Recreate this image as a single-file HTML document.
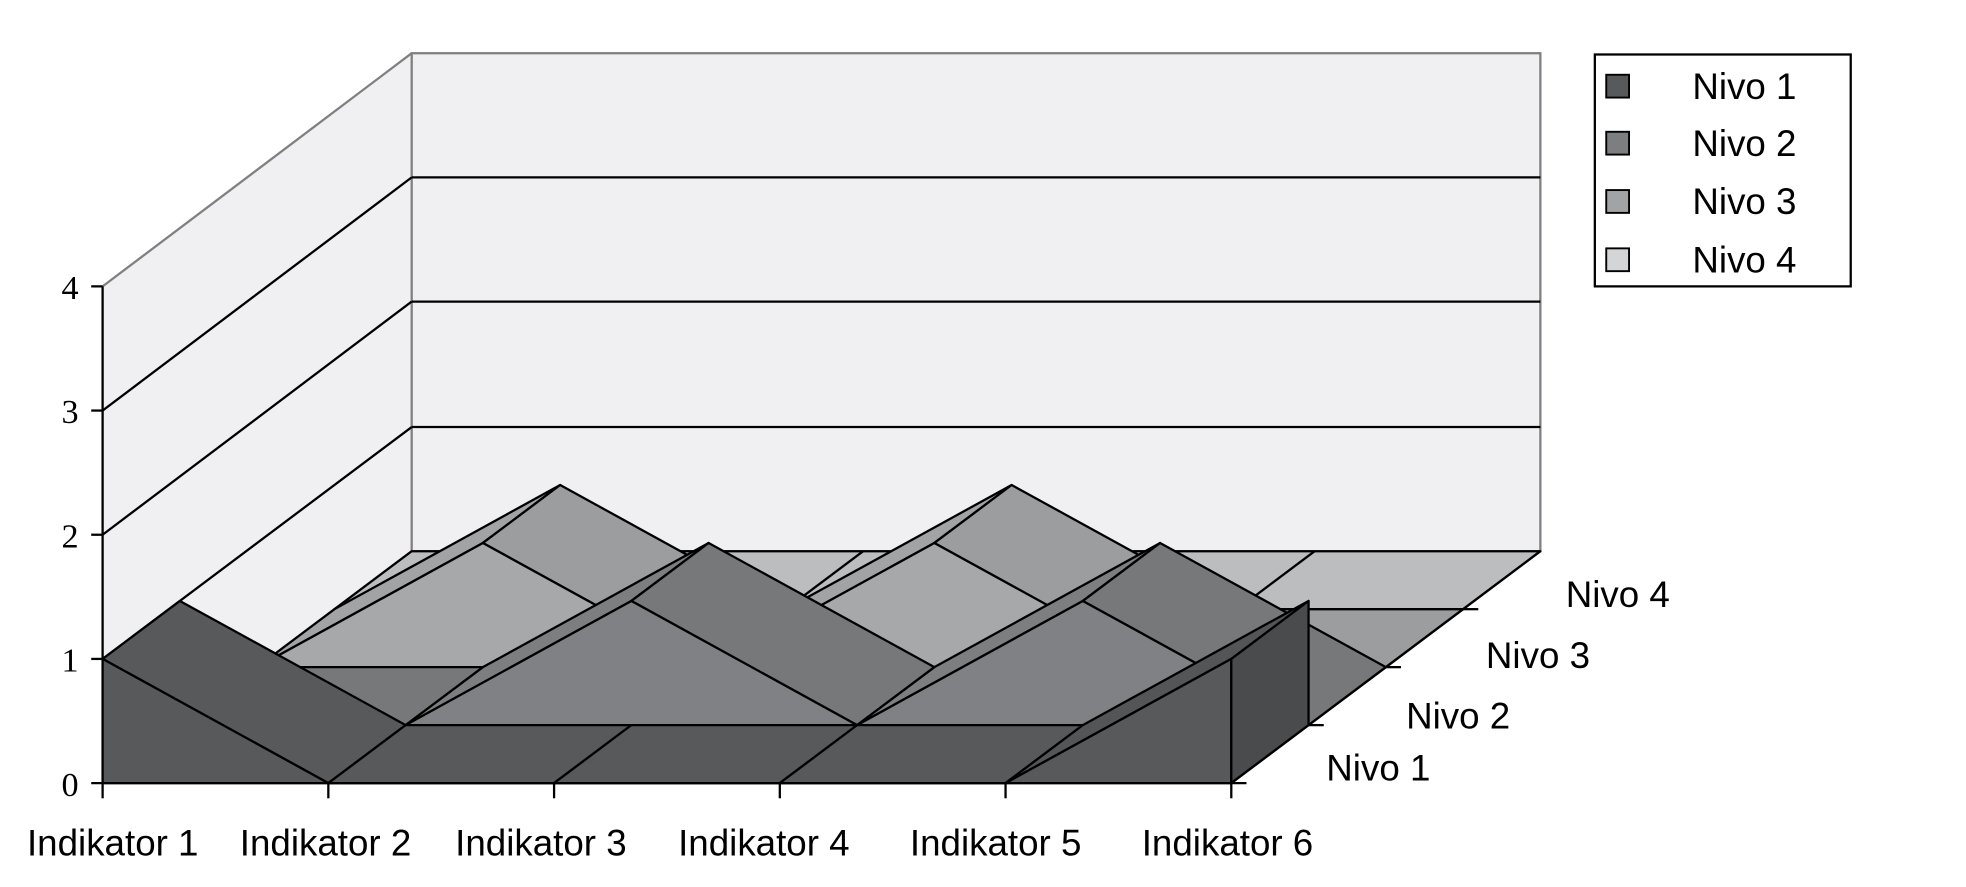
<!DOCTYPE html>
<html><head><meta charset="utf-8"><style>html,body{margin:0;padding:0;background:#fff;}svg{display:block}</style></head>
<body>
<svg width="1966" height="887" viewBox="0 0 1552 700" preserveAspectRatio="none" xmlns="http://www.w3.org/2000/svg">
<rect width="1552" height="700" fill="#fff"/>
<polygon points="81,226 325,42 325,435 81,618" fill="#f0f0f2"/>
<rect x="325" y="42" width="891" height="393" fill="#f0f0f2" stroke="#808080" stroke-width="1.8"/>
<line x1="81" y1="226" x2="325" y2="42" stroke="#808080" stroke-width="1.8"/>
<g stroke="#000" stroke-width="1.8" fill="none">
<line x1="325" y1="140" x2="1216" y2="140"/>
<line x1="325" y1="238" x2="1216" y2="238"/>
<line x1="325" y1="337" x2="1216" y2="337"/>
<line x1="81" y1="520" x2="325" y2="337"/>
<line x1="81" y1="422" x2="325" y2="238"/>
<line x1="81" y1="324" x2="325" y2="140"/>
<line x1="81" y1="226" x2="81" y2="618"/>
</g>
<g stroke="#000" stroke-width="1.8" stroke-linejoin="round">
<polygon points="264,480.75 1155,480.75 1216,435 325,435" fill="#bbbdbf"/>
<g fill="none"><line x1="442.2" y1="480.75" x2="503.2" y2="435"/><line x1="620.4" y1="480.75" x2="681.4" y2="435"/><line x1="798.6" y1="480.75" x2="859.6" y2="435"/><line x1="976.8" y1="480.75" x2="1037.8" y2="435"/></g>
<polygon points="203,526.5 381.2,428.5 442.2,382.75 264,480.75" fill="#a2a3a5"/>
<polygon points="381.2,428.5 559.4,526.5 620.4,480.75 442.2,382.75" fill="#9c9d9f"/>
<polygon points="559.4,526.5 737.6,428.5 798.6,382.75 620.4,480.75" fill="#a2a3a5"/>
<polygon points="737.6,428.5 915.8,526.5 976.8,480.75 798.6,382.75" fill="#9c9d9f"/>
<polygon points="915.8,526.5 1094,526.5 1155,480.75 976.8,480.75" fill="#9c9d9f"/>
<polygon points="203,526.5 381.2,428.5 559.4,526.5 737.6,428.5 915.8,526.5" fill="#a6a8aa"/>
<polygon points="142,572.25 320.2,572.25 381.2,526.5 203,526.5" fill="#77787a"/>
<polygon points="320.2,572.25 498.4,474.25 559.4,428.5 381.2,526.5" fill="#7d7e80"/>
<polygon points="498.4,474.25 676.6,572.25 737.6,526.5 559.4,428.5" fill="#77787a"/>
<polygon points="676.6,572.25 854.8,474.25 915.8,428.5 737.6,526.5" fill="#7d7e80"/>
<polygon points="854.8,474.25 1033,572.25 1094,526.5 915.8,428.5" fill="#77787a"/>
<polygon points="320.2,572.25 498.4,474.25 676.6,572.25 854.8,474.25 1033,572.25" fill="#808184"/>
<polygon points="81,520 259.2,618 320.2,572.25 142,474.25" fill="#58595b"/>
<polygon points="259.2,618 437.4,618 498.4,572.25 320.2,572.25" fill="#58595b"/>
<polygon points="437.4,618 615.6,618 676.6,572.25 498.4,572.25" fill="#58595b"/>
<polygon points="615.6,618 793.8,618 854.8,572.25 676.6,572.25" fill="#58595b"/>
<polygon points="793.8,618 972,520 1033,474.25 854.8,572.25" fill="#545557"/>
<polygon points="81,618 81,520 259.2,618 793.8,618 972,520 972,618" fill="#58595b"/>
<polygon points="972,618 972,520 1033,474.25 1033,572.25" fill="#4a4b4d"/>
</g>
<g stroke="#000" stroke-width="1.8" fill="none">
<line x1="972" y1="618" x2="1216" y2="435"/>
<line x1="72" y1="618" x2="984" y2="618"/>
<line x1="72" y1="520" x2="81" y2="520"/>
<line x1="72" y1="422" x2="81" y2="422"/>
<line x1="72" y1="324" x2="81" y2="324"/>
<line x1="72" y1="226" x2="81" y2="226"/>
<line x1="81" y1="618" x2="81" y2="630"/>
<line x1="259.2" y1="618" x2="259.2" y2="630"/>
<line x1="437.4" y1="618" x2="437.4" y2="630"/>
<line x1="615.6" y1="618" x2="615.6" y2="630"/>
<line x1="793.8" y1="618" x2="793.8" y2="630"/>
<line x1="972" y1="618" x2="972" y2="630"/>
<line x1="1033" y1="572.25" x2="1045" y2="572.25"/>
<line x1="1094" y1="526.5" x2="1106" y2="526.5"/>
<line x1="1155" y1="480.75" x2="1167" y2="480.75"/>
</g>
<g font-family="Liberation Serif, serif" font-size="27" text-anchor="end" fill="#000">
<text x="62" y="628">0</text><text x="62" y="530">1</text><text x="62" y="432">2</text><text x="62" y="334">3</text><text x="62" y="236">4</text>
</g>
<g font-family="Liberation Sans, sans-serif" font-size="29" fill="#000">
<g text-anchor="middle">
<text x="89" y="675">Indikator 1</text><text x="257" y="675">Indikator 2</text><text x="427" y="675">Indikator 3</text><text x="603" y="675">Indikator 4</text><text x="786" y="675">Indikator 5</text><text x="969" y="675">Indikator 6</text>
</g>
<text x="1047" y="616">Nivo 1</text><text x="1110" y="575">Nivo 2</text><text x="1173" y="527">Nivo 3</text><text x="1236" y="479">Nivo 4</text>
<rect x="1259" y="43" width="202" height="183" fill="#fff" stroke="#000" stroke-width="1.8"/>
<rect x="1268" y="59" width="18" height="18" fill="#58595b" stroke="#000" stroke-width="1.5"/>
<rect x="1268" y="104" width="18" height="18" fill="#7d7e80" stroke="#000" stroke-width="1.5"/>
<rect x="1268" y="150" width="18" height="18" fill="#a2a3a5" stroke="#000" stroke-width="1.5"/>
<rect x="1268" y="196" width="18" height="18" fill="#d4d5d7" stroke="#000" stroke-width="1.5"/>
<text x="1336" y="78">Nivo 1</text><text x="1336" y="123">Nivo 2</text><text x="1336" y="169">Nivo 3</text><text x="1336" y="215">Nivo 4</text>
</g>
</svg>
</body></html>
